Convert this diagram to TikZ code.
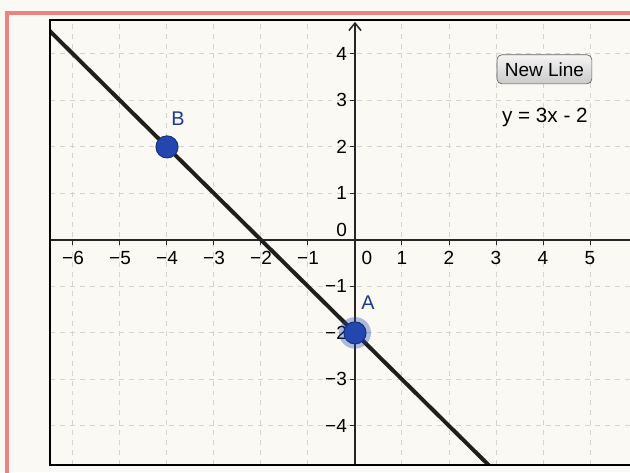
\documentclass[tikz,border=0pt]{standalone}
\usepackage{fontspec}
\setmainfont{Liberation Sans}
\usetikzlibrary{arrows.meta}

\definecolor{paper}{RGB}{250,249,244}
\definecolor{framepink}{RGB}{238,130,130}
\definecolor{gridgray}{RGB}{212,212,206}
\definecolor{ptblue}{RGB}{35,70,175}
\definecolor{lblblue}{RGB}{30,55,150}

\tikzset{
	gridline/.style={gridgray, dashed, line width=0.6pt},
	axisline/.style={black!85, line width=0.9pt},
	ticklabel/.style={font=\fontsize{11.5}{13}\selectfont, inner sep=1pt},
	ptdot/.style={circle, fill=ptblue, draw=ptblue!70!black, line width=0.6pt, minimum size=0.47cm, inner sep=0pt},
	ptlabel/.style={text=lblblue, font=\fontsize{12}{14}\selectfont},
	btnbox/.style={draw=gray!75!black, rounded corners=3pt, top color=gray!8, bottom color=gray!42, minimum width=2.02cm, minimum height=0.62cm, inner sep=1pt, font=\fontsize{11.5}{13}\selectfont}
}

\begin{document}
\begin{tikzpicture}[x=1cm, y=0.989cm]
		\clip (-7.553,-5.0) rectangle (5.851,5.161);
		% page and pink frame
		\fill[paper] (-7.553,-5.0) rectangle (5.851,5.161);
		\draw[framepink, line width=2.2pt] (-7.404,-5.3) -- (-7.404,4.882) -- (6.2,4.882);
		% grid
		\foreach \x in {-6,...,5} \draw[gridline] (\x,-4.839) -- (\x,4.731);
		\foreach \y in {-4,...,4} \draw[gridline] (-6.489,\y) -- (6.2,\y);
		% axes
		\draw[axisline, -{Straight Barb[length=1.6mm,width=2.6mm]}] (0,-4.839) -- (0,4.69);
		\draw[axisline] (-6.489,0) -- (6.2,0);
		% ticks and labels
		\foreach \x in {-6,...,-1,1,2,...,5} \draw[axisline, line width=0.6pt] (\x,0) -- (\x,-0.1);
		\foreach \y in {-4,...,-1,1,2,...,4} \draw[axisline, line width=0.6pt] (0,\y) -- (-0.1,\y);
		\foreach \x in {1,...,6} \node[ticklabel] (xm\x) at (-\x,-0.39) {−\x};
		\foreach \x in {1,...,5} \node[ticklabel] (xp\x) at (\x,-0.39) {\x};
		\node[ticklabel] (x0) at (0.255,-0.39) {0};
		\foreach \y in {1,...,4} \node[ticklabel, anchor=east] (ym\y) at (-0.13,-\y) {−\y};
		\foreach \y in {1,...,4} \node[ticklabel, anchor=east] (yp\y) at (-0.13,\y) {\y};
		\node[ticklabel, anchor=east] (y0) at (-0.13,0.215) {0};
		% the line, kept inside the box
		\begin{scope}
			\clip (-6.489,-4.839) rectangle (6.2,4.731);
			\coordinate (lnTop) at (-6.9,4.9);
			\coordinate (lnBot) at (3.1,-5.1);
			\draw[black!88, line width=2.4pt] (lnTop) -- (lnBot);
		\end{scope}
		% graph box
		\draw[black, line width=1.3pt] (6.2,4.731) -- (-6.489,4.731) -- (-6.489,-4.839) -- (6.2,-4.839);
		% points
		\fill[ptblue, opacity=0.35] (0,-2) circle (0.34);
		\node[ptdot] (ptA) at (0,-2) {};
		\node[ptdot] (ptB) at (-4,2) {};
		\node[ptlabel] (lblA) at (0.277,-1.355) {A};
		\node[ptlabel] (lblB) at (-3.766,2.60) {B};
		% button and equation
		\node[btnbox] (newline) at (4.03,3.67) {New Line};
		\node[font=\fontsize{12.5}{14}\selectfont] (eqn) at (4.04,2.645) {y = 3x - 2};
	\end{tikzpicture}
\end{document}
